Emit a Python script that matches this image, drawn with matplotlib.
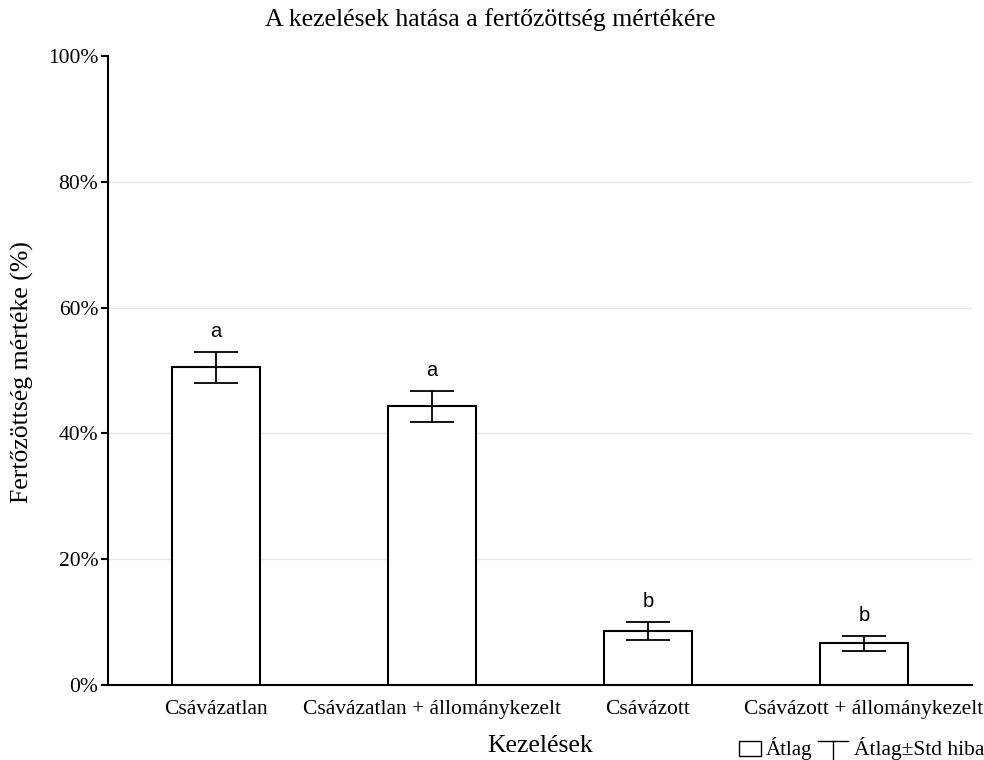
import matplotlib.pyplot as plt
from matplotlib.patches import Rectangle
from matplotlib.lines import Line2D
from matplotlib.ticker import FuncFormatter

# data
kezelesek = ['Csávázatlan', 'Csávázatlan + állománykezelt', 'Csávázott', 'Csávázott + állománykezelt']
atlag = [50.5, 44.3, 8.6, 6.6]
std_hiba = [2.45, 2.5, 1.4, 1.2]
betuk = ['a', 'a', 'b', 'b']

serif = ['Liberation Serif', 'DejaVu Serif']
sans = ['Liberation Sans', 'DejaVu Sans']

fig = plt.figure(figsize=(9.84, 7.6), dpi=100)
ax = fig.add_axes([108/984, 1-685/760, (972-108)/984, (685-56)/760])

x = list(range(len(kezelesek)))
ax.bar(x, atlag, width=0.41, color='white', edgecolor='black', linewidth=1.5, zorder=2)
ax.errorbar(x, atlag, yerr=std_hiba, fmt='none', ecolor='black', elinewidth=1.3,
            capsize=15.5, capthick=1.3, zorder=3)
for xi, m, s, b in zip(x, atlag, std_hiba, betuk):
    ax.text(xi, m + s + 2.4, b, ha='center', va='baseline', fontsize=14.5, family=sans)

# clean up plotting area
ax.set_xlim(-0.5, 3.5)
ax.set_ylim(0, 100)
ax.set_yticks([0, 20, 40, 60, 80, 100])
ax.yaxis.set_major_formatter(FuncFormatter(lambda v, p: '%d%%' % v))
ax.set_xticks(x)
ax.set_xticklabels(kezelesek, family=serif, fontsize=15.5)
for lab in ax.get_yticklabels():
    lab.set_family(serif)
    lab.set_fontsize(15.5)
ax.tick_params(axis='x', direction='in', length=4, width=1, pad=11)
ax.tick_params(axis='y', direction='out', length=5, width=1.5, pad=2)
for yv in [20, 40, 60, 80]:
    ax.axhline(yv, color='#e6e6e6', linewidth=1, zorder=1)
ax.spines['top'].set_visible(False)
ax.spines['right'].set_visible(False)
ax.spines['left'].set_linewidth(1.5)
ax.spines['bottom'].set_linewidth(1.5)

fig.text(490/984, 1-20/760, 'A kezelések hatása a fertőzöttség mértékére',
         ha='center', va='center', family=serif, fontsize=18.5)
fig.text(22/984, 1-372/760, 'Fertőzöttség mértéke (%)', rotation=90,
         ha='center', va='center', family=serif, fontsize=18.5)
fig.text(540/984, 1-746/760, 'Kezelések', ha='center', va='center', family=serif, fontsize=18.5)

# legend drawn by hand
fig.patches.append(Rectangle((739/984, 1-756/760), 22/984, 15/760, transform=fig.transFigure,
                             facecolor='white', edgecolor='black', linewidth=1))
fig.text(766/984, 1-749/760, 'Átlag', ha='left', va='center', family=serif, fontsize=15)
fig.lines.append(Line2D([818/984, 848/984], [1-741/760, 1-741/760], transform=fig.transFigure,
                        color='black', linewidth=1))
fig.lines.append(Line2D([833/984, 833/984], [1-741/760, 1-760/760], transform=fig.transFigure,
                        color='black', linewidth=1))
fig.text(854/984, 1-749/760, 'Átlag±Std hiba', ha='left', va='center', family=serif, fontsize=15.5)

fig.savefig('out.png', dpi=100)
